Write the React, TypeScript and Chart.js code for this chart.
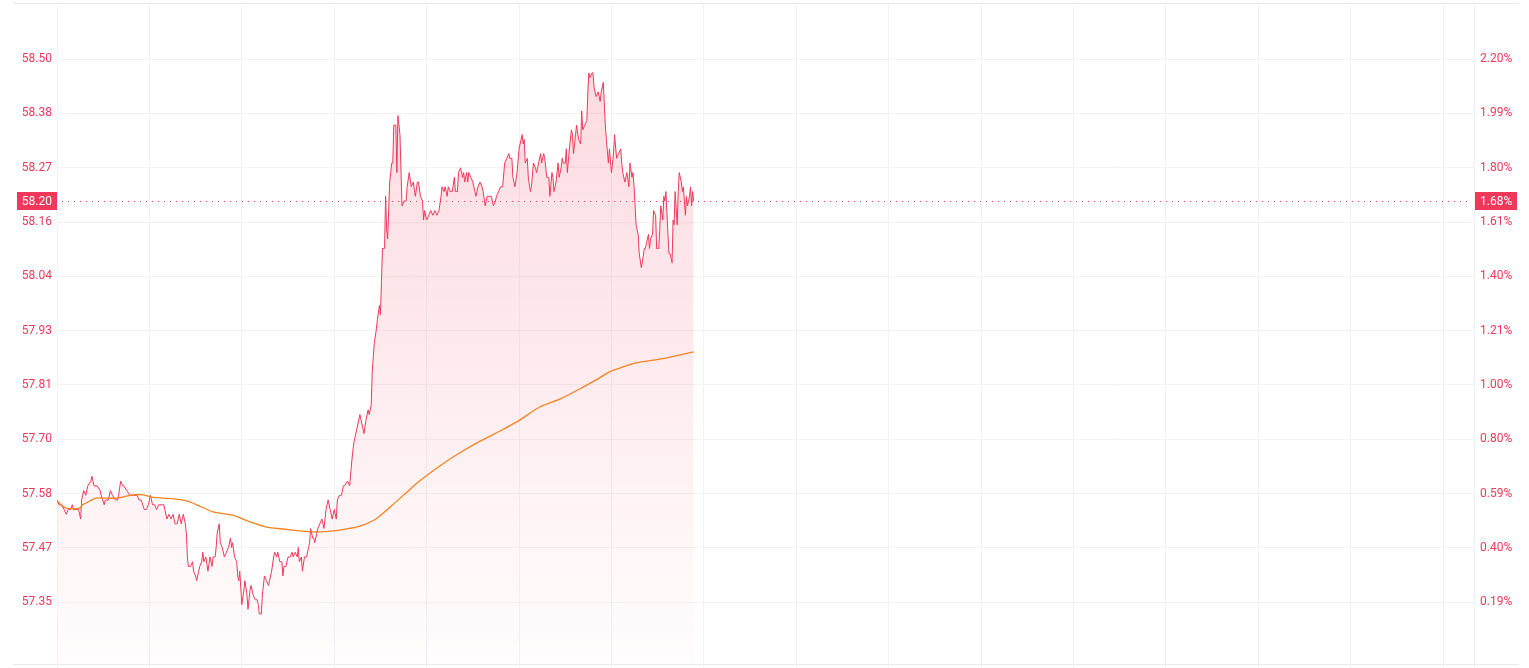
import React, { useEffect, useRef } from "react";
import { Chart, registerables } from "chart.js";

Chart.register(...registerables);

// ---- session / axis constants ----
const PREV_CLOSE = 57.24;
const SESSION_MINUTES = 1380;
const Y_MIN = 57.2245;
const Y_MAX = 58.6173;
const LAST_PRICE = 58.2;

const xGridMinutes = [0, 90, 180, 270, 360, 450, 540, 630, 720, 810, 900, 990, 1080, 1170, 1260, 1350, 1380];

const priceTickValues = [57.3545, 57.469, 57.5834, 57.6979, 57.8124, 57.9269, 58.0414, 58.1558, 58.2703, 58.3848, 58.4993];
const priceTickLabels = ["57.35", "57.47", "57.58", "57.70", "57.81", "57.93", "58.04", "58.16", "58.27", "58.38", "58.50"];
const percentTickLabels = ["0.19%", "0.40%", "0.59%", "0.80%", "1.00%", "1.21%", "1.40%", "1.61%", "1.80%", "1.99%", "2.20%"];

// ---- price series (minute index from session open, price) ----
const priceMinutes = [
  0, 2, 4, 7, 9, 11, 13, 15, 16, 19, 21, 23, 24, 26, 28, 30, 33, 34, 36, 39, 42, 43, 46, 47, 50, 52, 54, 57, 59, 60,
  62, 64, 65, 68, 71, 73, 76, 78, 80, 82, 85, 87, 89, 91, 93, 95, 97, 99, 102, 104, 105, 107, 109, 111, 113, 115, 117, 119, 121, 123,
  125, 126, 127, 128, 130, 132, 133, 135, 136, 138, 139, 141, 142, 143, 145, 147, 149, 151, 152, 154, 155, 156, 158, 159, 161, 163, 165, 167, 169, 170,
  171, 173, 175, 176, 177, 178, 180, 182, 183, 185, 186, 188, 189, 191, 193, 195, 196, 197, 199, 200, 202, 204, 206, 207, 209, 211, 212, 214, 215, 217,
  219, 220, 221, 223, 225, 227, 229, 230, 232, 234, 235, 236, 238, 239, 241, 243, 245, 246, 247, 249, 250, 251, 253, 254, 256, 258, 260, 262, 264, 266,
  268, 270, 272, 273, 275, 277, 279, 280, 283, 285, 287, 289, 290, 292, 295, 297, 299, 301, 303, 304, 306, 307, 309, 311, 312, 314, 315, 316, 317, 319,
  320, 321, 322, 324, 326, 327, 328, 330, 331, 332, 334, 336, 338, 340, 341, 343, 345, 347, 349, 351, 352, 354, 356, 357, 358, 360, 362, 364, 366, 368,
  370, 372, 374, 375, 377, 378, 380, 381, 383, 385, 387, 388, 390, 391, 393, 395, 396, 397, 399, 400, 401, 403, 405, 407, 408, 410, 412, 414, 415, 417,
  419, 421, 423, 425, 427, 428, 430, 432, 434, 436, 438, 440, 441, 443, 444, 446, 448, 450, 453, 454, 455, 456, 458, 459, 461, 462, 464, 466, 467, 469,
  471, 472, 474, 475, 477, 479, 480, 482, 483, 484, 486, 488, 489, 491, 492, 493, 495, 496, 497, 499, 501, 502, 503, 505, 506, 508, 510, 511, 512, 514,
  516, 517, 518, 519, 521, 522, 523, 525, 527, 529, 530, 532, 534, 535, 537, 538, 540, 542, 543, 545, 547, 549, 550, 551, 553, 555, 557, 558, 560, 561,
  562, 564, 566, 567, 569, 570, 572, 573, 574, 576, 577, 578, 580, 581, 583, 584, 586, 587, 588, 590, 591, 592, 593, 595, 596, 597, 599, 600, 601, 602,
  604, 605, 606, 608, 609, 610, 612, 613, 614, 616, 617, 618, 619, 620,
];
const priceValues = [
  57.57, 57.56, 57.56, 57.55, 57.54, 57.55, 57.55, 57.56, 57.55, 57.55, 57.55, 57.53, 57.57, 57.59, 57.58, 57.6, 57.61, 57.62, 57.6, 57.6, 57.59, 57.58, 57.56, 57.57, 57.57, 57.59, 57.58, 57.57, 57.57, 57.58,
  57.61, 57.6, 57.6, 57.59, 57.58, 57.58, 57.58, 57.58, 57.57, 57.57, 57.55, 57.55, 57.56, 57.58, 57.56, 57.56, 57.55, 57.56, 57.56, 57.56, 57.55, 57.53, 57.54, 57.53, 57.54, 57.52, 57.52, 57.54, 57.52, 57.54,
  57.52, 57.5, 57.45, 57.43, 57.43, 57.44, 57.42, 57.41, 57.4, 57.42, 57.43, 57.44, 57.46, 57.44, 57.45, 57.42, 57.45, 57.43, 57.45, 57.45, 57.47, 57.5, 57.52, 57.48, 57.47, 57.45, 57.46, 57.47, 57.49, 57.47,
  57.48, 57.45, 57.44, 57.41, 57.4, 57.42, 57.35, 57.38, 57.4, 57.37, 57.34, 57.38, 57.39, 57.37, 57.36, 57.36, 57.35, 57.33, 57.33, 57.37, 57.41, 57.4, 57.39, 57.4, 57.42, 57.45, 57.46, 57.45, 57.46, 57.44,
  57.44, 57.41, 57.43, 57.43, 57.45, 57.45, 57.46, 57.45, 57.46, 57.45, 57.47, 57.44, 57.45, 57.42, 57.45, 57.45, 57.47, 57.48, 57.51, 57.49, 57.49, 57.48, 57.5, 57.51, 57.52, 57.53, 57.51, 57.55, 57.57, 57.55,
  57.53, 57.55, 57.53, 57.57, 57.58, 57.58, 57.6, 57.6, 57.61, 57.6, 57.65, 57.69, 57.7, 57.72, 57.75, 57.73, 57.71, 57.74, 57.76, 57.75, 57.77, 57.84, 57.9, 57.93, 57.95, 57.98, 57.96, 58.03, 58.1, 58.1,
  58.21, 58.14, 58.12, 58.24, 58.28, 58.28, 58.36, 58.36, 58.26, 58.38, 58.34, 58.19, 58.2, 58.2, 58.23, 58.26, 58.23, 58.24, 58.21, 58.24, 58.24, 58.21, 58.2, 58.16, 58.18, 58.16, 58.17, 58.18, 58.17, 58.18,
  58.17, 58.18, 58.21, 58.23, 58.22, 58.23, 58.21, 58.23, 58.22, 58.22, 58.25, 58.22, 58.22, 58.26, 58.27, 58.25, 58.26, 58.24, 58.26, 58.24, 58.26, 58.25, 58.24, 58.22, 58.21, 58.23, 58.24, 58.23, 58.22, 58.19,
  58.21, 58.21, 58.21, 58.19, 58.2, 58.21, 58.22, 58.23, 58.23, 58.28, 58.29, 58.3, 58.29, 58.29, 58.25, 58.23, 58.26, 58.31, 58.34, 58.32, 58.33, 58.28, 58.29, 58.25, 58.22, 58.23, 58.28, 58.27, 58.26, 58.28,
  58.3, 58.28, 58.3, 58.29, 58.25, 58.25, 58.21, 58.26, 58.25, 58.22, 58.24, 58.28, 58.25, 58.27, 58.29, 58.28, 58.28, 58.31, 58.26, 58.31, 58.35, 58.34, 58.3, 58.34, 58.36, 58.33, 58.32, 58.39, 58.35, 58.36,
  58.37, 58.43, 58.47, 58.46, 58.47, 58.47, 58.44, 58.42, 58.43, 58.41, 58.43, 58.45, 58.36, 58.33, 58.28, 58.31, 58.26, 58.3, 58.34, 58.29, 58.3, 58.31, 58.28, 58.26, 58.24, 58.26, 58.23, 58.28, 58.25, 58.26,
  58.23, 58.15, 58.13, 58.09, 58.06, 58.07, 58.1, 58.1, 58.11, 58.13, 58.1, 58.12, 58.13, 58.18, 58.17, 58.1, 58.1, 58.14, 58.19, 58.16, 58.21, 58.2, 58.22, 58.13, 58.09, 58.09, 58.07, 58.16, 58.15, 58.22,
  58.15, 58.22, 58.26, 58.24, 58.22, 58.23, 58.17, 58.21, 58.19, 58.21, 58.23, 58.19, 58.22, 58.2,
];

// ---- average price line ----
const avgMinutes = [0, 2, 9, 22, 25, 32, 38, 58, 74, 84, 93, 103, 116, 126, 136, 152, 171, 188, 204, 220, 236, 253, 269, 282, 295, 309, 319, 329, 339, 353, 377, 392, 412, 431, 451, 470, 490, 509, 528, 538, 548, 564, 587, 607, 620];
const avgValues = [57.57, 57.564, 57.553, 57.553, 57.56, 57.568, 57.574, 57.574, 57.581, 57.581, 57.576, 57.574, 57.572, 57.568, 57.56, 57.545, 57.538, 57.524, 57.513, 57.509, 57.505, 57.503, 57.505, 57.509, 57.515, 57.528, 57.545, 57.564, 57.583, 57.61, 57.648, 57.669, 57.694, 57.715, 57.739, 57.766, 57.783, 57.804, 57.827, 57.84, 57.848, 57.859, 57.867, 57.876, 57.882];

const RED = "#f0385a";
const ORANGE = "#f5821f";
const GRID = "#f2f2f2";
const FONT = "Roboto, 'Noto Sans', sans-serif";

const overlayPlugin = {
  id: "overlay",
  beforeDraw(chart: any) {
    const { ctx, chartArea: a } = chart;
    ctx.save();
    ctx.strokeStyle = "#e9e9e9";
    ctx.lineWidth = 1;
    ctx.beginPath();
    ctx.moveTo(a.left - 44, a.top + 0.5);
    ctx.lineTo(a.right + 45, a.top + 0.5);
    ctx.moveTo(a.left - 44, a.bottom + 0.5);
    ctx.lineTo(a.right + 45, a.bottom + 0.5);
    ctx.stroke();
    ctx.restore();
  },
  afterDatasetsDraw(chart: any) {
    const { ctx, chartArea: a, scales } = chart;
    const y = Math.round(scales.y.getPixelForValue(LAST_PRICE)) + 0.5;
    ctx.save();
    ctx.strokeStyle = RED;
    ctx.lineWidth = 1;
    ctx.setLineDash([1, 5]);
    ctx.beginPath();
    ctx.moveTo(a.left + 5, y);
    ctx.lineTo(a.right - 4, y);
    ctx.stroke();
    ctx.restore();
  },
  afterDraw(chart: any) {
    const { ctx, chartArea: a, scales } = chart;
    const y = Math.round(scales.y.getPixelForValue(LAST_PRICE));
    const pct = ((LAST_PRICE / PREV_CLOSE - 1) * 100).toFixed(2) + "%";
    ctx.save();
    ctx.fillStyle = RED;
    ctx.fillRect(a.left - 40, y - 9, 40, 18);
    ctx.fillRect(a.right + 1, y - 9, 42, 18);
    ctx.fillStyle = "#ffffff";
    ctx.font = `12px ${FONT}`;
    ctx.textBaseline = "middle";
    ctx.textAlign = "right";
    ctx.fillText(LAST_PRICE.toFixed(2), a.left - 5, y + 0.5);
    ctx.textAlign = "left";
    ctx.fillText(pct, a.right + 6, y + 0.5);
    ctx.restore();
  },
};

const fitVertical = (width: number) => (s: any) => {
  s.width = width;
  s.paddingTop = 0;
  s.paddingBottom = 0;
};

export default function App() {
  const canvasRef = useRef<HTMLCanvasElement | null>(null);

  useEffect(() => {
    if (!canvasRef.current) return;
    const priceData = priceMinutes.map((m, i) => ({ x: m, y: priceValues[i] }));
    const avgData = avgMinutes.map((m, i) => ({ x: m, y: avgValues[i] }));

    const chart = new Chart(canvasRef.current, {
      type: "line",
      data: {
        datasets: [
          {
            label: "avg",
            data: avgData,
            borderColor: ORANGE,
            borderWidth: 1.3,
            pointRadius: 0,
            tension: 0.3,
            fill: false,
            order: 0,
          },
          {
            label: "price",
            data: priceData,
            borderColor: RED,
            borderWidth: 1,
            pointRadius: 0,
            tension: 0,
            fill: "start",
            order: 1,
            backgroundColor: (c: any) => {
              const { chart: ch } = c;
              const area = ch.chartArea;
              if (!area) return "rgba(240,56,90,0.1)";
              const g = ch.ctx.createLinearGradient(0, area.top, 0, area.bottom);
              g.addColorStop(0, "rgba(240,56,90,0.2)");
              g.addColorStop(0.5, "rgba(240,56,90,0.11)");
              g.addColorStop(1, "rgba(240,56,90,0.01)");
              return g;
            },
          },
        ],
      },
      options: {
        animation: false,
        responsive: true,
        maintainAspectRatio: false,
        events: [],
        layout: { padding: { top: 3, left: 0, right: 0, bottom: 0 } },
        plugins: { legend: { display: false }, tooltip: { enabled: false } },
        scales: {
          x: {
            type: "linear",
            min: 0,
            max: SESSION_MINUTES,
            afterBuildTicks: (s: any) => {
              s.ticks = xGridMinutes.map((v) => ({ value: v }));
            },
            afterFit: (s: any) => {
              s.height = 4;
              s.paddingLeft = 0;
              s.paddingRight = 0;
            },
            ticks: { display: false },
            grid: { color: GRID, drawTicks: true, tickLength: 4, tickColor: GRID },
            border: { display: false },
          },
          y: {
            type: "linear",
            position: "left",
            min: Y_MIN,
            max: Y_MAX,
            afterBuildTicks: (s: any) => {
              s.ticks = priceTickValues.map((v) => ({ value: v }));
            },
            afterFit: fitVertical(57),
            ticks: {
              color: RED,
              padding: 5,
              font: { family: FONT, size: 12 },
              callback: (_v: any, i: number) => priceTickLabels[i],
            },
            grid: { color: GRID, drawTicks: false },
            border: { display: false },
          },
          y1: {
            type: "linear",
            position: "right",
            min: Y_MIN,
            max: Y_MAX,
            afterBuildTicks: (s: any) => {
              s.ticks = priceTickValues.map((v) => ({ value: v }));
            },
            afterFit: fitVertical(55),
            ticks: {
              color: RED,
              padding: 6,
              font: { family: FONT, size: 12 },
              callback: (_v: any, i: number) => percentTickLabels[i],
            },
            grid: { display: false, drawTicks: false },
            border: { display: false },
          },
        },
      },
      plugins: [overlayPlugin],
    });
    return () => chart.destroy();
  }, []);

  return (
    <div style={{ position: "absolute", left: 0, top: 0, width: "1529px", height: "668px", background: "#ffffff" }}>
      <canvas ref={canvasRef} />
    </div>
  );
}
